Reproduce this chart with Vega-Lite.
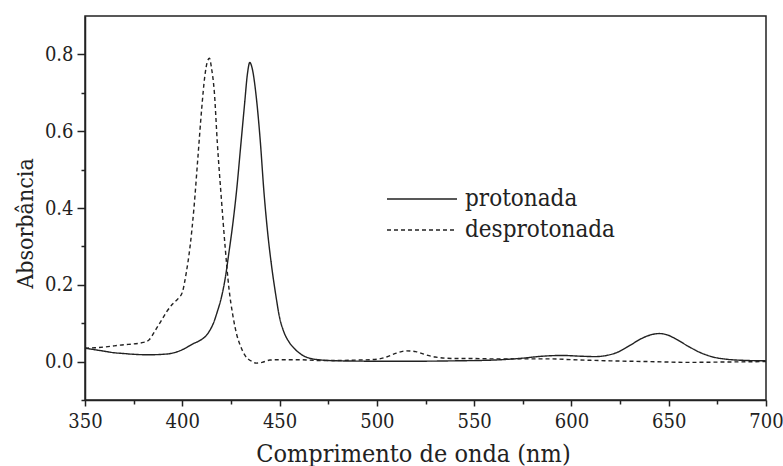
{
  "$schema": "https://vega.github.io/schema/vega-lite/v6.json",
  "width": 681,
  "height": 384,
  "autosize": {"type": "none"},
  "padding": {"left": 85, "top": 16, "right": 17, "bottom": 66},
  "background": "white",
  "config": {
    "view": {"stroke": "#222", "strokeWidth": 1.5},
    "font": "DejaVu Serif Condensed, DejaVu Serif",
    "axis": {
      "labelColor": "#222",
      "titleColor": "#222",
      "domainColor": "#222",
      "tickColor": "#222",
      "domainWidth": 1.5,
      "tickWidth": 1.5,
      "grid": false,
      "labelFontSize": 20,
      "titleFontSize": 25,
      "titleFontWeight": "normal"
    },
    "legend": {
      "labelFontSize": 24,
      "labelColor": "#222",
      "labelLimit": 400
    }
  },
  "data": {
    "values": [
      {"nm": 350, "a": 0.035, "s": "protonada"},
      {"nm": 355, "a": 0.031, "s": "protonada"},
      {"nm": 360, "a": 0.027, "s": "protonada"},
      {"nm": 365, "a": 0.023, "s": "protonada"},
      {"nm": 370, "a": 0.021, "s": "protonada"},
      {"nm": 375, "a": 0.019, "s": "protonada"},
      {"nm": 380, "a": 0.018, "s": "protonada"},
      {"nm": 385, "a": 0.018, "s": "protonada"},
      {"nm": 390, "a": 0.019, "s": "protonada"},
      {"nm": 395, "a": 0.022, "s": "protonada"},
      {"nm": 400, "a": 0.031, "s": "protonada"},
      {"nm": 405, "a": 0.045, "s": "protonada"},
      {"nm": 410, "a": 0.058, "s": "protonada"},
      {"nm": 412, "a": 0.066, "s": "protonada"},
      {"nm": 414, "a": 0.08, "s": "protonada"},
      {"nm": 416, "a": 0.1, "s": "protonada"},
      {"nm": 418, "a": 0.13, "s": "protonada"},
      {"nm": 420, "a": 0.165, "s": "protonada"},
      {"nm": 422, "a": 0.215, "s": "protonada"},
      {"nm": 424, "a": 0.285, "s": "protonada"},
      {"nm": 426, "a": 0.36, "s": "protonada"},
      {"nm": 428, "a": 0.45, "s": "protonada"},
      {"nm": 430, "a": 0.56, "s": "protonada"},
      {"nm": 432, "a": 0.67, "s": "protonada"},
      {"nm": 433.5, "a": 0.75, "s": "protonada"},
      {"nm": 434.7, "a": 0.779, "s": "protonada"},
      {"nm": 436, "a": 0.762, "s": "protonada"},
      {"nm": 438, "a": 0.69, "s": "protonada"},
      {"nm": 440, "a": 0.58, "s": "protonada"},
      {"nm": 442, "a": 0.44, "s": "protonada"},
      {"nm": 444, "a": 0.33, "s": "protonada"},
      {"nm": 446, "a": 0.245, "s": "protonada"},
      {"nm": 448, "a": 0.175, "s": "protonada"},
      {"nm": 450, "a": 0.115, "s": "protonada"},
      {"nm": 452, "a": 0.08, "s": "protonada"},
      {"nm": 455, "a": 0.05, "s": "protonada"},
      {"nm": 458, "a": 0.032, "s": "protonada"},
      {"nm": 462, "a": 0.016, "s": "protonada"},
      {"nm": 466, "a": 0.008, "s": "protonada"},
      {"nm": 470, "a": 0.005, "s": "protonada"},
      {"nm": 480, "a": 0.002, "s": "protonada"},
      {"nm": 500, "a": 0.001, "s": "protonada"},
      {"nm": 520, "a": 0.001, "s": "protonada"},
      {"nm": 540, "a": 0.002, "s": "protonada"},
      {"nm": 560, "a": 0.004, "s": "protonada"},
      {"nm": 575, "a": 0.009, "s": "protonada"},
      {"nm": 585, "a": 0.014, "s": "protonada"},
      {"nm": 595, "a": 0.016, "s": "protonada"},
      {"nm": 605, "a": 0.014, "s": "protonada"},
      {"nm": 612, "a": 0.013, "s": "protonada"},
      {"nm": 618, "a": 0.016, "s": "protonada"},
      {"nm": 624, "a": 0.025, "s": "protonada"},
      {"nm": 630, "a": 0.042, "s": "protonada"},
      {"nm": 636, "a": 0.06, "s": "protonada"},
      {"nm": 641, "a": 0.07, "s": "protonada"},
      {"nm": 645, "a": 0.073, "s": "protonada"},
      {"nm": 649, "a": 0.07, "s": "protonada"},
      {"nm": 654, "a": 0.058, "s": "protonada"},
      {"nm": 660, "a": 0.04, "s": "protonada"},
      {"nm": 666, "a": 0.024, "s": "protonada"},
      {"nm": 672, "a": 0.013, "s": "protonada"},
      {"nm": 680, "a": 0.006, "s": "protonada"},
      {"nm": 690, "a": 0.003, "s": "protonada"},
      {"nm": 700, "a": 0.002, "s": "protonada"},
      {"nm": 350, "a": 0.035, "s": "desprotonada"},
      {"nm": 355, "a": 0.036, "s": "desprotonada"},
      {"nm": 360, "a": 0.038, "s": "desprotonada"},
      {"nm": 365, "a": 0.041, "s": "desprotonada"},
      {"nm": 370, "a": 0.044, "s": "desprotonada"},
      {"nm": 375, "a": 0.046, "s": "desprotonada"},
      {"nm": 380, "a": 0.05, "s": "desprotonada"},
      {"nm": 383, "a": 0.057, "s": "desprotonada"},
      {"nm": 386, "a": 0.08, "s": "desprotonada"},
      {"nm": 389, "a": 0.105, "s": "desprotonada"},
      {"nm": 392, "a": 0.13, "s": "desprotonada"},
      {"nm": 395, "a": 0.15, "s": "desprotonada"},
      {"nm": 398, "a": 0.165, "s": "desprotonada"},
      {"nm": 400, "a": 0.18, "s": "desprotonada"},
      {"nm": 402, "a": 0.23, "s": "desprotonada"},
      {"nm": 404, "a": 0.3, "s": "desprotonada"},
      {"nm": 406, "a": 0.4, "s": "desprotonada"},
      {"nm": 408, "a": 0.53, "s": "desprotonada"},
      {"nm": 410, "a": 0.66, "s": "desprotonada"},
      {"nm": 411.5, "a": 0.74, "s": "desprotonada"},
      {"nm": 413, "a": 0.783, "s": "desprotonada"},
      {"nm": 414, "a": 0.79, "s": "desprotonada"},
      {"nm": 415, "a": 0.765, "s": "desprotonada"},
      {"nm": 416.5, "a": 0.7, "s": "desprotonada"},
      {"nm": 418, "a": 0.57, "s": "desprotonada"},
      {"nm": 420, "a": 0.43, "s": "desprotonada"},
      {"nm": 422, "a": 0.3, "s": "desprotonada"},
      {"nm": 424, "a": 0.19, "s": "desprotonada"},
      {"nm": 426, "a": 0.12, "s": "desprotonada"},
      {"nm": 428, "a": 0.07, "s": "desprotonada"},
      {"nm": 430, "a": 0.04, "s": "desprotonada"},
      {"nm": 432, "a": 0.018, "s": "desprotonada"},
      {"nm": 434, "a": 0.006, "s": "desprotonada"},
      {"nm": 436, "a": 0.0, "s": "desprotonada"},
      {"nm": 438, "a": -0.004, "s": "desprotonada"},
      {"nm": 441, "a": -0.002, "s": "desprotonada"},
      {"nm": 445, "a": 0.004, "s": "desprotonada"},
      {"nm": 450, "a": 0.005, "s": "desprotonada"},
      {"nm": 460, "a": 0.005, "s": "desprotonada"},
      {"nm": 470, "a": 0.003, "s": "desprotonada"},
      {"nm": 480, "a": 0.003, "s": "desprotonada"},
      {"nm": 490, "a": 0.004, "s": "desprotonada"},
      {"nm": 500, "a": 0.006, "s": "desprotonada"},
      {"nm": 505, "a": 0.012, "s": "desprotonada"},
      {"nm": 510, "a": 0.022, "s": "desprotonada"},
      {"nm": 515, "a": 0.028, "s": "desprotonada"},
      {"nm": 520, "a": 0.026, "s": "desprotonada"},
      {"nm": 525, "a": 0.018, "s": "desprotonada"},
      {"nm": 530, "a": 0.012, "s": "desprotonada"},
      {"nm": 540, "a": 0.008, "s": "desprotonada"},
      {"nm": 550, "a": 0.008, "s": "desprotonada"},
      {"nm": 560, "a": 0.007, "s": "desprotonada"},
      {"nm": 570, "a": 0.007, "s": "desprotonada"},
      {"nm": 580, "a": 0.007, "s": "desprotonada"},
      {"nm": 590, "a": 0.007, "s": "desprotonada"},
      {"nm": 600, "a": 0.005, "s": "desprotonada"},
      {"nm": 620, "a": 0.002, "s": "desprotonada"},
      {"nm": 640, "a": 0.0, "s": "desprotonada"},
      {"nm": 660, "a": -0.002, "s": "desprotonada"},
      {"nm": 680, "a": -0.001, "s": "desprotonada"},
      {"nm": 700, "a": 0.0, "s": "desprotonada"}
    ]
  },
  "mark": {"type": "line", "interpolate": "monotone", "color": "#222", "strokeWidth": 1.4},
  "encoding": {
    "x": {
      "field": "nm",
      "type": "quantitative",
      "scale": {"domain": [350, 700], "nice": false, "zero": false},
      "axis": {
        "title": "Comprimento de onda (nm)",
        "labelFont": "DejaVu Serif Condensed, DejaVu Serif",
        "titleFont": "DejaVu Serif Condensed, DejaVu Serif",
        "values": [350, 375, 400, 425, 450, 475, 500, 525, 550, 575, 600, 625, 650, 675, 700],
        "labelExpr": "datum.value % 50 == 0 ? datum.label : ''",
        "format": "d",
        "tickSize": {"condition": {"test": "datum.value % 50 == 0", "value": 6}, "value": 4},
        "labelPadding": 5,
        "titleX": 328,
        "titleY": 61,
        "titleAlign": "center",
        "titleBaseline": "alphabetic",
        "labelFlush": false
      }
    },
    "y": {
      "field": "a",
      "type": "quantitative",
      "scale": {"domain": [-0.1, 0.9], "nice": false, "zero": false},
      "axis": {
        "title": "Absorbância",
        "labelFont": "DejaVu Serif Condensed, DejaVu Serif",
        "titleFont": "DejaVu Serif Condensed, DejaVu Serif",
        "titleFontSize": 23,
        "values": [-0.1, 0, 0.1, 0.2, 0.3, 0.4, 0.5, 0.6, 0.7, 0.8],
        "format": ".1f",
        "labelExpr": "round(datum.value * 10) % 2 == 0 ? datum.label : ''",
        "tickSize": {"condition": {"test": "round(datum.value * 10) % 2 == 0", "value": 8}, "value": 4},
        "labelPadding": 4,
        "titleX": -53,
        "titleY": 207,
        "titleAlign": "center",
        "titleBaseline": "alphabetic",
        "titleAngle": -90,
        "labelFlush": false
      }
    },
    "strokeDash": {
      "field": "s",
      "type": "nominal",
      "scale": {"domain": ["protonada", "desprotonada"], "range": [[1, 0], [4, 3]]},
      "legend": {
        "title": null,
        "orient": "none",
        "legendX": 325,
        "legendY": 171,
        "labelFont": "DejaVu Serif Condensed, DejaVu Serif",
        "symbolType": "M-3.5,0H3.5",
        "symbolSize": 400,
        "symbolStrokeColor": "#222",
        "symbolStrokeWidth": 1.4,
        "labelOffset": 31,
        "rowPadding": 7,
        "padding": 0
      }
    }
  }
}
